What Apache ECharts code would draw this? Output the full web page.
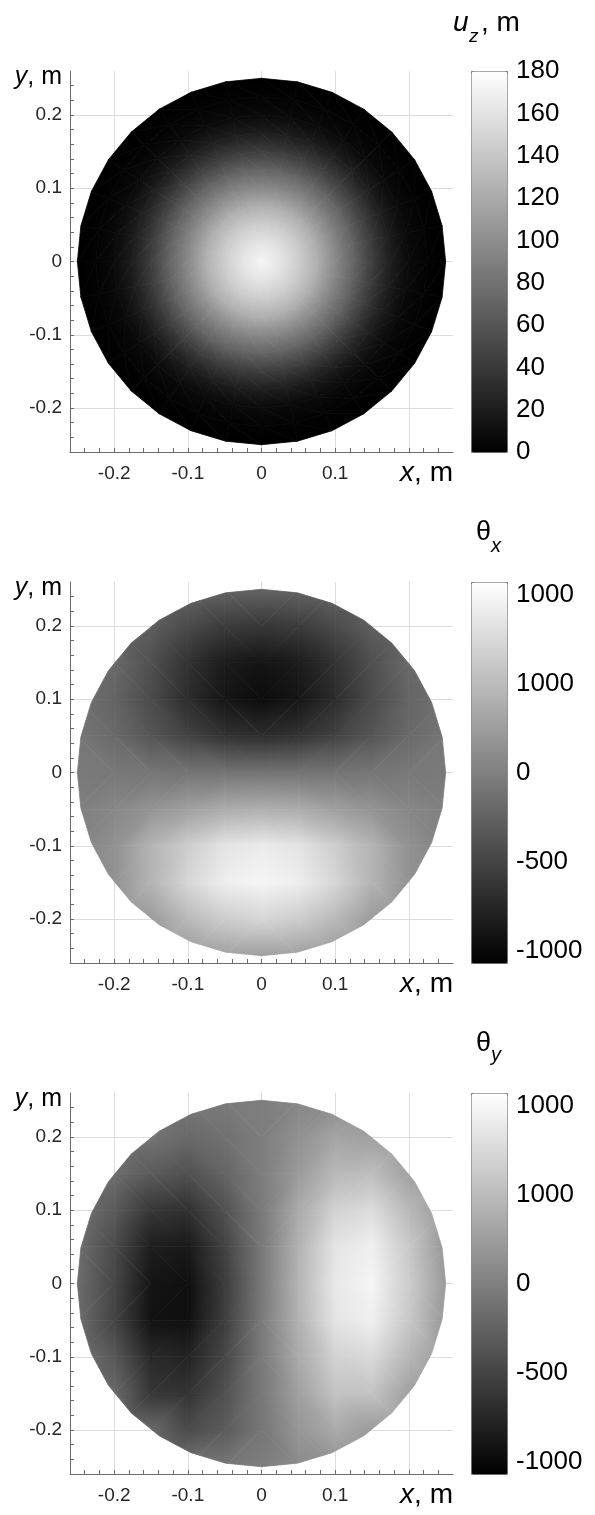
<!DOCTYPE html>
<html>
<head>
<meta charset="utf-8">
<script src="https://cdn.jsdelivr.net/npm/echarts@6/dist/echarts.min.js"></script>
<style>
  html, body { margin: 0; padding: 0; background: #fff; }
  #main { width: 595px; height: 1515px; }
</style>
</head>
<body>
<div id="main"></div>
<script>
// plate outline: 32-gon, one vertex on top
var discRadius = 0.25;
var discSides = 32;

// u_z, m : axisymmetric, value on each ring of the mesh
var uzRadius = [0, 0.025, 0.05, 0.075, 0.1, 0.125, 0.15, 0.175, 0.2, 0.225, 0.25];
var uzValues = [173, 161, 145, 124, 97, 71, 44, 21, 7, 2, 0];

// theta_x and theta_y : nodal values on a 0.05 m grid (rows from y=0.25 down)
var nodeX = [-0.25, -0.2, -0.15, -0.1, -0.05, 0, 0.05, 0.1, 0.15, 0.2, 0.25];
var nodeY = [0.25, 0.2, 0.15, 0.1, 0.05, 0, -0.05, -0.1, -0.15, -0.2, -0.25];

var thetaXValues = [
  [-150, -150, -180, -200, -230, -230, -230, -200, -180, -150, -150],
  [-150, -190, -270, -440, -570, -610, -570, -440, -270, -190, -150],
  [-110, -190, -400, -650, -840, -900, -840, -650, -400, -190, -110],
  [-110, -230, -440, -700, -890, -970, -890, -700, -440, -230, -110],
  [-80, -190, -360, -520, -650, -690, -650, -520, -360, -190, -80],
  [-50, -60, -80, -100, -100, -100, -100, -100, -80, -60, -50],
  [0, 60, 170, 270, 370, 400, 370, 270, 170, 60, 0],
  [20, 150, 440, 650, 840, 900, 840, 650, 440, 150, 20],
  [60, 150, 440, 730, 930, 990, 930, 730, 440, 150, 60],
  [100, 110, 230, 480, 650, 730, 650, 480, 230, 110, 100],
  [100, 100, 120, 200, 270, 270, 270, 200, 120, 100, 100]
];

var thetaYValues = [
  [-50, -50, -50, -60, -50, -20, 60, 100, 100, 100, 100],
  [-60, -80, -100, -190, -130, -20, 150, 310, 270, 190, 100],
  [-60, -150, -310, -400, -230, -20, 230, 480, 520, 270, 150],
  [-100, -310, -610, -670, -400, -50, 360, 690, 780, 480, 190],
  [-150, -440, -820, -860, -520, -60, 420, 840, 940, 610, 190],
  [-160, -480, -900, -940, -570, -60, 440, 880, 990, 650, 230],
  [-160, -500, -920, -940, -550, -50, 420, 840, 940, 610, 190],
  [-100, -330, -730, -780, -480, -50, 360, 690, 760, 460, 190],
  [-60, -190, -610, -650, -400, -60, 270, 570, 570, 270, 150],
  [-60, -80, -190, -440, -310, -80, 190, 360, 230, 190, 100],
  [-50, -50, -60, -100, -80, -20, 100, 150, 100, 100, 100]
];

// axes
var axisMin = -0.26;
var axisMax = 0.26;
var xLabelValues = [-0.2, -0.1, 0, 0.1];
var xLabelTexts = ['-0.2', '-0.1', '0', '0.1'];
var yLabelValues = [-0.2, -0.1, 0, 0.1, 0.2];
var yLabelTexts = ['-0.2', '-0.1', '0', '0.1', '0.2'];
var minorTicks = [];
for (var t = -12; t <= 12; t++) minorTicks.push(t / 50);

// colour bars
var uzRange = [0, 180];
var uzTickValues = [0, 20, 40, 60, 80, 100, 120, 140, 160, 180];
var uzTickLabels = ['0', '20', '40', '60', '80', '100', '120', '140', '160', '180'];
var thetaRange = [-1070, 1070];
var thetaTickValues = [-1000, -500, 0, 500, 1000];
var thetaTickLabels = ['-1000', '-500', '0', '1000', '1000'];

var fontFamily = '"Liberation Sans", Arial, Helvetica, sans-serif';

var discPoly = [];
for (var k = 0; k < discSides; k++) {
  var a = Math.PI / 2 + k * 2 * Math.PI / discSides;
  discPoly.push([discRadius * Math.cos(a), discRadius * Math.sin(a)]);
}

function side(a, b, p) {
  return (b[0] - a[0]) * (p[1] - a[1]) - (b[1] - a[1]) * (p[0] - a[0]);
}

// clip a polygon (data coords) to the plate outline
function clipToDisc(poly) {
  var out = poly;
  for (var i = 0; i < discPoly.length && out.length; i++) {
    var a = discPoly[i], b = discPoly[(i + 1) % discPoly.length];
    var input = out;
    out = [];
    for (var j = 0; j < input.length; j++) {
      var p = input[j], q = input[(j + 1) % input.length];
      var sp = side(a, b, p), sq = side(a, b, q);
      if (sp >= 0) out.push(p);
      if ((sp >= 0) !== (sq >= 0)) {
        var f = sp / (sp - sq);
        out.push([p[0] + f * (q[0] - p[0]), p[1] + f * (q[1] - p[1])]);
      }
    }
  }
  return out;
}

function gray(v, lo, hi) {
  var f = Math.max(0, Math.min(1, (v - lo) / (hi - lo)));
  var c = Math.round(f * 255);
  return 'rgb(' + c + ',' + c + ',' + c + ')';
}

// linear shading of one triangle (pixel coords P, nodal values v)
function shade(P, v, lo, hi) {
  var e1x = P[1][0] - P[0][0], e1y = P[1][1] - P[0][1];
  var e2x = P[2][0] - P[0][0], e2y = P[2][1] - P[0][1];
  var d1 = v[1] - v[0], d2 = v[2] - v[0];
  var det = e1x * e2y - e1y * e2x;
  var vmin = Math.min(v[0], v[1], v[2]), vmax = Math.max(v[0], v[1], v[2]);
  if (Math.abs(det) < 1e-9 || vmax - vmin < 1e-9) return gray((vmin + vmax) / 2, lo, hi);
  var gx = (d1 * e2y - d2 * e1y) / det;
  var gy = (d2 * e1x - d1 * e2x) / det;
  var g2 = gx * gx + gy * gy;
  var s = (vmin - v[0]) / g2, e = (vmax - v[0]) / g2;
  return new echarts.graphic.LinearGradient(
    P[0][0] + gx * s, P[0][1] + gy * s, P[0][0] + gx * e, P[0][1] + gy * e,
    [{ offset: 0, color: gray(vmin, lo, hi) }, { offset: 1, color: gray(vmax, lo, hi) }],
    true
  );
}

function makeRenderItem(lo, hi, clip) {
  return function (params, api) {
    var tri = [], vals = [];
    for (var k = 0; k < 3; k++) {
      tri.push([api.value(3 * k), api.value(3 * k + 1)]);
      vals.push(api.value(3 * k + 2));
    }
    var poly = clip ? clipToDisc(tri) : tri;
    if (poly.length < 3) return null;
    var px = tri.map(function (p) { return api.coord(p); });
    var points = poly.map(function (p) { return api.coord(p); });
    return {
      type: 'polygon',
      silent: true,
      shape: { points: points },
      style: { fill: shade(px, vals, lo, hi), stroke: shade(px, vals, lo, hi), lineWidth: 0.8 }
    };
  };
}

// triangles of the polar mesh (rings share the outline angles)
function polarTriangles(radii, values) {
  var n = discSides, tris = [];
  function node(k, m) {
    var a = Math.PI / 2 + m * 2 * Math.PI / n;
    return [radii[k] * Math.cos(a), radii[k] * Math.sin(a), values[k]];
  }
  for (var m = 0; m < n; m++) {
    tris.push([0, 0, values[0]].concat(node(1, m), node(1, m + 1)));
    for (var k = 1; k < radii.length - 1; k++) {
      tris.push(node(k, m).concat(node(k + 1, m), node(k + 1, m + 1)));
      tris.push(node(k, m).concat(node(k + 1, m + 1), node(k, m + 1)));
    }
  }
  return tris;
}

// two triangles per grid cell, diagonal pointing to the centre
function gridTriangles(xs, ys, vals) {
  var tris = [];
  for (var j = 0; j < ys.length - 1; j++) {
    for (var i = 0; i < xs.length - 1; i++) {
      var tl = [xs[i], ys[j], vals[j][i]], tr = [xs[i + 1], ys[j], vals[j][i + 1]];
      var bl = [xs[i], ys[j + 1], vals[j + 1][i]], br = [xs[i + 1], ys[j + 1], vals[j + 1][i + 1]];
      var cx = (xs[i] + xs[i + 1]) / 2, cy = (ys[j] + ys[j + 1]) / 2;
      var pair = cx * cy > 0 ? [[bl, br, tr], [bl, tr, tl]] : [[tl, bl, br], [tl, br, tr]];
      pair.forEach(function (tri) {
        var poly = clipToDisc(tri.map(function (p) { return [p[0], p[1]]; }));
        if (poly.length >= 3) tris.push(tri[0].concat(tri[1], tri[2]));
      });
    }
  }
  return tris;
}

function labelFor(values, texts) {
  return function (v) {
    for (var i = 0; i < values.length; i++) {
      if (Math.abs(values[i] - v) < 1e-6) return texts[i];
    }
    return '';
  };
}

var option = {
  animation: false,
  backgroundColor: '#fff',
  grid: [],
  xAxis: [],
  yAxis: [],
  series: [],
  visualMap: [],
  graphic: []
};

var tickLabelStyle = { fontSize: 19, color: '#262626', fontFamily: fontFamily };
var axisGray = '#6b6b6b';

function text(x, y, str, size, italic, align) {
  return {
    type: 'text', x: x, y: y, silent: true,
    style: {
      text: str, fill: '#000', textAlign: align || 'left', textVerticalAlign: 'middle',
      font: (italic ? 'italic ' : '') + size + 'px ' + fontFamily
    }
  };
}

function richText(x, y, italicPart, rest, size) {
  return {
    type: 'text', x: x, y: y, silent: true,
    style: {
      text: '{i|' + italicPart + '}{n|' + rest + '}',
      textAlign: 'right', textVerticalAlign: 'middle', fill: '#000',
      rich: {
        i: { fontStyle: 'italic', fontSize: size, fontFamily: fontFamily, color: '#000' },
        n: { fontSize: size, fontFamily: fontFamily, color: '#000' }
      }
    }
  };
}

function addPanel(p, top, data, range, clip, tickValues, tickLabels, titles) {
  var g = 2 * p;
  option.grid.push({ left: 70, top: top, width: 383, height: 381 });
  option.grid.push({ left: 471, top: top, width: 36, height: 381 });

  // labels + grid lines
  option.xAxis.push({
    gridIndex: g, type: 'value', min: axisMin, max: axisMax, position: 'bottom',
    axisLine: { show: false, onZero: false }, axisTick: { show: false },
    axisLabel: Object.assign({ margin: 12, formatter: labelFor(xLabelValues, xLabelTexts) }, tickLabelStyle),
    splitLine: { show: true, showMinLine: false, showMaxLine: false, lineStyle: { color: '#dcdcdc', width: 1 } }
  });
  option.yAxis.push({
    gridIndex: g, type: 'value', min: axisMin, max: axisMax, position: 'left',
    axisLine: { show: false, onZero: false }, axisTick: { show: false },
    axisLabel: Object.assign({ margin: 8, formatter: labelFor(yLabelValues, yLabelTexts) }, tickLabelStyle),
    splitLine: { show: true, showMinLine: false, showMaxLine: false, lineStyle: { color: '#dcdcdc', width: 1 } }
  });
  // axis lines + 0.02 ticks
  option.xAxis.push({
    gridIndex: g, type: 'value', min: axisMin, max: axisMax, position: 'bottom',
    axisLine: { show: true, onZero: false, lineStyle: { color: axisGray, width: 1 } },
    axisTick: { show: true, inside: true, length: 4, customValues: minorTicks, lineStyle: { color: axisGray } },
    axisLabel: { show: false }, splitLine: { show: false }
  });
  option.yAxis.push({
    gridIndex: g, type: 'value', min: axisMin, max: axisMax, position: 'left',
    axisLine: { show: true, onZero: false, lineStyle: { color: axisGray, width: 1 } },
    axisTick: { show: true, inside: true, length: 4, customValues: minorTicks, lineStyle: { color: axisGray } },
    axisLabel: { show: false }, splitLine: { show: false }
  });
  // colour bar scale
  option.xAxis.push({ gridIndex: g + 1, type: 'value', min: 0, max: 1, show: false });
  option.yAxis.push({
    gridIndex: g + 1, type: 'value', min: range[0], max: range[1], position: 'right',
    axisLine: { show: false, onZero: false },
    axisTick: { show: true, inside: true, length: 4, customValues: tickValues, lineStyle: { color: '#444' } },
    axisLabel: { customValues: tickValues, formatter: labelFor(tickValues, tickLabels), margin: 9,
      fontSize: 26, color: '#000', fontFamily: fontFamily },
    splitLine: { show: false }
  });

  option.series.push({
    type: 'custom',
    xAxisIndex: 3 * p, yAxisIndex: 3 * p,
    renderItem: makeRenderItem(range[0], range[1], clip),
    encode: { x: 0, y: 1 },
    data: data,
    z: 3
  });

  option.visualMap.push({
    type: 'continuous', seriesIndex: p, dimension: 2,
    min: range[0], max: range[1], calculable: false, hoverLink: false,
    left: 471, top: top, itemWidth: 36, itemHeight: 381, padding: 0,
    borderColor: '#777', borderWidth: 1,
    inRange: { color: ['#000000', '#ffffff'] }
  });

  option.graphic.push(richText(62, top + 6, 'y', ', m', 25));
  option.graphic.push(richText(453, top + 402, 'x', ', m', 28));
  titles.forEach(function (tt) { option.graphic.push(tt); });
}

addPanel(0, 71, polarTriangles(uzRadius, uzValues), uzRange, false, uzTickValues, uzTickLabels, [
  text(453, 23, 'u', 28, true),
  text(469, 37, 'z', 19, true),
  text(481, 23, ', m', 28, false)
]);
addPanel(1, 582, gridTriangles(nodeX, nodeY, thetaXValues), thetaRange, true, thetaTickValues, thetaTickLabels, [
  text(476, 533, 'θ', 27, false),
  text(491, 546, 'x', 20, true)
]);
addPanel(2, 1093, gridTriangles(nodeX, nodeY, thetaYValues), thetaRange, true, thetaTickValues, thetaTickLabels, [
  text(476, 1044, 'θ', 27, false),
  text(491, 1055, 'y', 20, true)
]);

var chart = echarts.init(document.getElementById('main'), null, { renderer: 'canvas' });
chart.setOption(option);
</script>
</body>
</html>
